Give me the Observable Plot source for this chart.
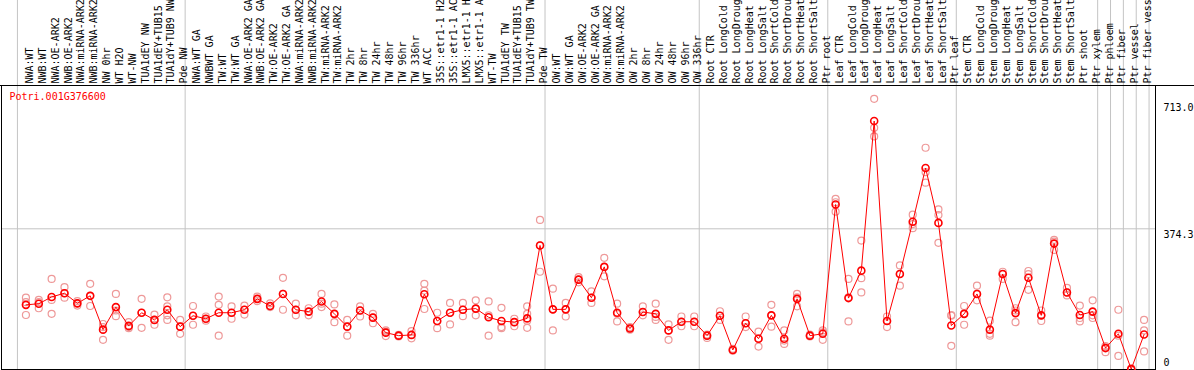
<!DOCTYPE html>
<html>
<head>
<meta charset="utf-8">
<script src="https://cdn.jsdelivr.net/npm/d3@7"></script>
<script src="https://cdn.jsdelivr.net/npm/@observablehq/plot@0.6"></script>
<style>
  html, body { margin: 0; padding: 0; background: white; overflow: hidden; }
</style>
</head>
<body>
<div id="chart"></div>
<script>
const geneName = "Potri.001G376600";

// column labels as they are visible in the reference (clipped at the top edge)
const labels = [
  "NWA:WT","NWB:WT","NWA:OE-ARK2","NWB:OE-ARK2","NWA:miRNA-ARK2","NWB:miRNA-ARK2","NW 0hr","WT H2O","WT-NW","TUA1dEY NW",
  "TUA1dEY+TUB15","TUA1dY+TUB9 NW","Pde NW","NWA:WT GA","NWBWT GA","TW:WT","TW:WT GA","NWA:OE-ARK2 GA","NWB:OE-ARK2 GA","TW:OE-ARK2",
  "TW:OE-ARK2 GA","NWA:miRNA-ARK2","NWB:miRNA-ARK2","TW:miRNA-ARK2","TW:miRNA-ARK2","TW 2hr","TW 8hr","TW 24hr","TW 48hr","TW 96hr",
  "TW 336hr","WT ACC","35S::etr1-1 H2","35S::etr1-1 AC","LMX5::etr1-1 H","LMX5::etr1-1 A","WT-TW","TUA1dEY TW","TUA1dEY+TUB15","TUA1dY+TUB9 TW",
  "Pde TW","OW:WT","OW:WT GA","OW:OE-ARK2","OW:OE-ARK2 GA","OW:miRNA-ARK2","OW:miRNA-ARK2","OW 2hr","OW 8hr","OW 24hr",
  "OW 48hr","OW 96hr","OW 336hr","Root CTR","Root LongCold","Root LongDroug","Root LongHeat","Root LongSalt","Root ShortCold","Root ShortDrou",
  "Root ShortHeat","Root ShortSalt","Ptr root","Leaf CTR","Leaf LongCold","Leaf LongDroug","Leaf LongHeat","Leaf LongSalt","Leaf ShortCold","Leaf ShortDrou",
  "Leaf ShortHeat","Leaf ShortSalt","Ptr leaf","Stem CTR","Stem LongCold","Stem LongDroug","Stem LongHeat","Stem LongSalt","Stem ShortCold","Stem ShortDrou",
  "Stem ShortHeat","Stem ShortSalt","Ptr shoot","Ptr xylem","Ptr phloem","Ptr fiber","Ptr vessel","Ptr fiber vess"
];

const means = [
  172,175,193,203,176,196,106,166,116,151,
  132,159,114,143,135,151,151,159,188,169,
  201,159,154,181,148,114,157,138,98,90,
  92,200,129,151,159,162,139,129,126,136,
  330,160,160,239,191,273,151,109,153,148,
  104,127,127,90,143,52,123,82,144,82,
  188,90,95,439,190,263,661,129,254,393,
  536,390,117,148,201,106,254,150,244,144,
  335,205,145,154,57,95,1,93
];

const rep1 = [
  191,185,241,219,170,228,121,201,126,188,
  146,192,132,169,141,194,168,170,194,176,
  244,175,163,201,173,132,168,148,104,92,
  102,228,151,177,177,184,181,164,135,168,
  398,215,177,246,208,297,175,113,168,175,
  120,141,141,93,155,55,141,101,172,104,
  201,93,104,454,241,343,720,141,277,412,
  590,426,143,169,223,130,260,163,262,157,
  345,217,170,184,62,159,0,132
];
const rep2 = [
  145,163,185,191,176,169,113,142,113,111,
  119,168,95,119,130,172,135,146,188,166,
  159,144,144,166,126,90,141,123,89,88,
  83,210,110,120,142,144,90,113,115,148,
  260,104,141,239,177,248,128,106,144,132,
  79,115,115,84,132,50,113,61,114,68,
  168,88,79,420,128,243,643,113,223,376,
  497,411,63,119,184,90,241,126,212,129,
  318,197,128,137,46,36,0,104
];
const rep3 = [
  179,179,148,203,182,196,79,157,110,151,
  132,144,114,143,135,90,151,159,182,169,
  201,159,154,175,148,114,157,138,101,90,
  92,161,129,151,159,162,144,110,126,130,
  330,160,160,232,191,273,148,109,153,140,
  104,127,127,90,143,52,123,82,144,77,
  192,90,99,445,192,205,620,129,254,387,
  525,337,145,148,201,95,254,157,254,144,
  340,205,137,144,59,90,3,48
];
const rep4 = [
  null,null,null,null,null,null,null,null,null,null,
  null,132,null,null,null,null,null,null,null,null,
  null,null,null,null,null,null,null,null,null,null,
  null,null,null,null,null,null,null,null,null,111,
  null,null,null,null,null,null,null,null,null,null,
  null,null,null,null,null,null,null,null,null,null,
  null,null,null,null,null,null,null,null,null,null,
  null,null,null,null,null,null,null,null,null,null,
  null,null,null,null,null,null,null,null
];

// group boundaries: last category index (0-based) of each group
const groupEnds = [12, 40, 52, 62, 72, 83, 84, 85, 86, 87];
const groupStarts = [0];

const yTicks = [713.0, 374.3];
const yZero = [0];
const gridValues = [374.3];

const idx = d3.range(labels.length);
const meanRows = idx.map(i => ({i, v: means[i]}));
const repRows = [];
for (const arr of [rep1, rep2, rep3, rep4]) {
  idx.forEach(i => { if (arr[i] != null) repRows.push({i, v: arr[i]}); });
}

const font = "'DejaVu Sans Mono', 'Liberation Mono', monospace";

const chart = Plot.plot({
  width: 1194,
  height: 370,
  marginTop: 85,
  marginBottom: 1,
  marginLeft: 1,
  marginRight: 39,
  style: {fontFamily: font, fontSize: "10px", background: "white", color: "black"},
  x: {type: "point", domain: idx, range: [19, 1150], axis: null},
  y: {domain: [0, 713], range: [369, 101], axis: null},
  marks: [
    Plot.ruleY(gridValues, {stroke: "#c4c4c4", strokeWidth: 1}),
    Plot.frame({stroke: "black", strokeWidth: 1}),
    Plot.ruleX(groupStarts, {x: d => d, dx: -8.5, insetTop: -85, stroke: "#c4c4c4", strokeWidth: 1}),
    Plot.ruleX(groupEnds, {x: d => d, dx: 5, insetTop: -85, stroke: "#c4c4c4", strokeWidth: 1}),
    Plot.frame({anchor: "top", stroke: "black", strokeWidth: 1, insetRight: -39, insetLeft: -1}),
    Plot.text(idx, {
      x: d => d, frameAnchor: "top", dy: -2, rotate: -90, textAnchor: "start",
      text: d => labels[d], fill: "black", fontFamily: font, fontSize: 10
    }),
    Plot.text([geneName], {
      frameAnchor: "top-left", dx: 8, dy: 7, textAnchor: "start", lineAnchor: "top",
      text: d => d, fill: "red", fontFamily: font, fontSize: 10
    }),
    Plot.text(yTicks, {
      y: d => d, frameAnchor: "right", dx: 8, dy: 2, textAnchor: "start", lineAnchor: "top",
      text: d => d.toFixed(1), fill: "black", fontFamily: font, fontSize: 10
    }),
    Plot.text(yZero, {
      y: d => d, frameAnchor: "right", dx: 8, dy: -4, textAnchor: "start", lineAnchor: "bottom",
      text: d => String(d), fill: "black", fontFamily: font, fontSize: 10
    }),
    Plot.dot(repRows, {x: "i", y: "v", r: 3.5, stroke: "#ee9999", strokeWidth: 1.2, fill: "none"}),
    Plot.line(meanRows, {x: "i", y: "v", stroke: "red", strokeWidth: 1}),
    Plot.dot(meanRows, {x: "i", y: "v", r: 3.5, stroke: "red", strokeWidth: 1.6, fill: "none"})
  ]
});
document.getElementById("chart").appendChild(chart);
</script>
</body>
</html>
